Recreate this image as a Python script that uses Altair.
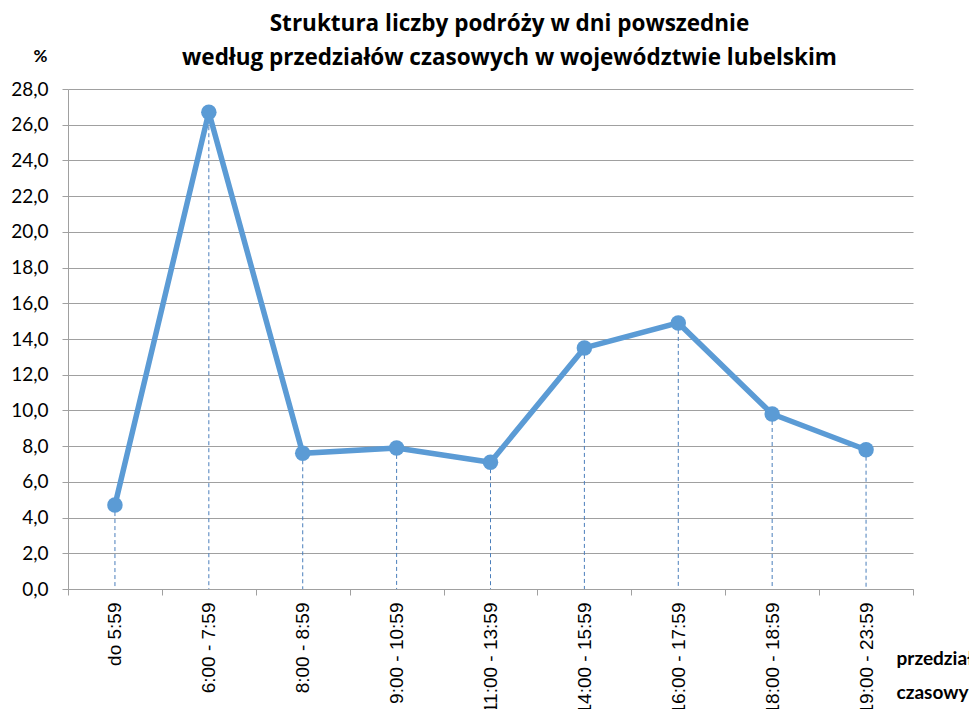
import altair as alt
import pandas as pd

categories = ["do 5:59", "6:00 - 7:59", "8:00 - 8:59", "9:00 - 10:59", "11:00 - 13:59",
              "14:00 - 15:59", "16:00 - 17:59", "18:00 - 18:59", "19:00 - 23:59"]
values = [4.7, 26.7, 7.6, 7.9, 7.1, 13.5, 14.9, 9.8, 7.8]
y_ticks = [0, 2, 4, 6, 8, 10, 12, 14, 16, 18, 20, 22, 24, 26, 28]

df = pd.DataFrame({"cat": categories, "val": values})

LINE = "#5b9bd5"

x_enc = alt.X("cat:N", sort=categories, scale=alt.Scale(paddingInner=0, paddingOuter=0),
              axis=alt.Axis(title=["przedział", "czasowy"], labelAngle=270, labelAlign="right",
                            labelBaseline="middle", labelFont="Liberation Sans", labelFontSize=19,
                            labelColor="#000000", labelPadding=7, tickBand="extent",
                            tickColor="#a0a0a0", tickSize=6, domainColor="#a0a0a0",
                            grid=False, titleFont="Lato", titleFontSize=19, titleFontWeight="bold",
                            titleColor="#000000", titleAngle=0, titleAlign="left",
                            titleBaseline="middle", titleX=828, titleY=69, titleLineHeight=34))
y_enc = alt.Y("val:Q", scale=alt.Scale(domain=[0, 28], nice=False),
              axis=alt.Axis(title="%", values=y_ticks,
                            labelExpr="replace(format(datum.value, '.1f'), '.', ',')",
                            labelFont="Lato", labelFontSize=19, labelColor="#000000",
                            labelPadding=14, tickColor="#a0a0a0", tickSize=6,
                            domainColor="#a0a0a0", gridColor="#a0a0a0", gridOpacity=1,
                            titleFont="Lato", titleFontSize=17, titleFontWeight="bold",
                            titleColor="#000000", titleAngle=0, titleAlign="center",
                            titleBaseline="middle", titleX=-28, titleY=-33))

base = alt.Chart(df)

drops = base.mark_rule(color="#4a7ebb", strokeWidth=1, strokeDash=[4, 3]).encode(
    x=x_enc, y=y_enc, y2=alt.datum(0))
line = base.mark_line(color=LINE, strokeWidth=5.5).encode(x=x_enc, y=y_enc)
pts = base.mark_point(filled=True, color=LINE, size=240, opacity=1).encode(x=x_enc, y=y_enc)

chart = alt.layer(drops, line, pts).properties(
    width=845, height=500,
    title=alt.TitleParams(
        text=["Struktura liczby podróży w dni powszednie",
              "według przedziałów czasowych w województwie lubelskim"],
        font="Open Sans", fontSize=22.5, fontWeight="bold", color="#000000",
        anchor="middle", dx=19, dy=30, lineHeight=34, offset=8),
    autosize="none",
    padding={"left": 60, "top": 81, "right": 56, "bottom": 120},
).configure_view(stroke=None)

chart.save("out.html", embed_options={"renderer": "svg", "actions": False})
